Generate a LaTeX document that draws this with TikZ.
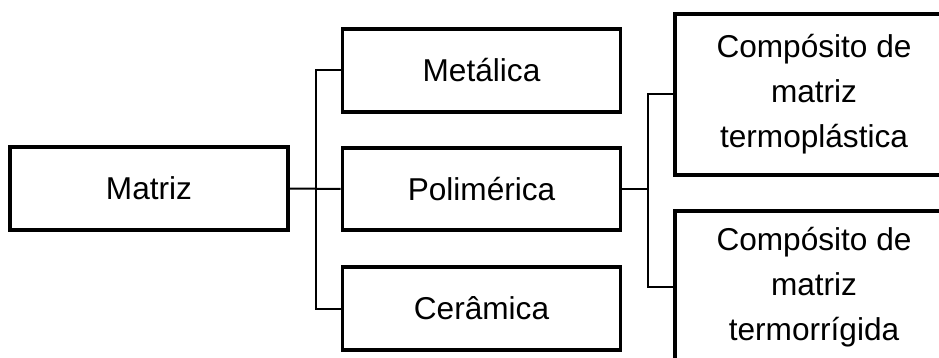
\documentclass[tikz,border=0pt]{standalone}
\usepackage{fontspec}
\setmainfont{Liberation Sans}
\begin{document}
\begin{tikzpicture}[x=1pt,y=-1pt,
  box/.style={draw=black, line width=3.6pt, rectangle, minimum width=278pt, inner sep=0pt, align=center,
    font=\fontsize{31.6}{45}\selectfont},
  conn/.style={draw=black, line width=2pt}]
\useasboundingbox (0,0) rectangle (939,358);
\clip (0,0) rectangle (939,358);
\node[box, minimum height=83pt] (m) at (149,188.5) {Matriz};
\node[box, minimum height=83pt] (met) at (481.5,70.5) {Metálica};
\node[box, minimum height=82pt] (pol) at (481.5,189) {Polimérica};
\node[box, minimum height=83pt] (cer) at (481.5,308.5) {Cerâmica};
\node[box, minimum height=161pt] (c1) at (814,94.5) {Compósito de\\matriz\\termoplástica};
\node[box, minimum height=152pt] (c2) at (814,287) {Compósito de\\matriz\\termorrígida};
\coordinate (j1) at (316,189);
\coordinate (j2) at (648,189);
\draw[conn] (m.east) -- (pol.west);
\draw[conn] (met.west) -| (j1) |- (cer.west);
\draw[conn] (pol.east) -- (j2);
\draw[conn] (c1.west) -| (j2) |- (c2.west);
\end{tikzpicture}
\end{document}
